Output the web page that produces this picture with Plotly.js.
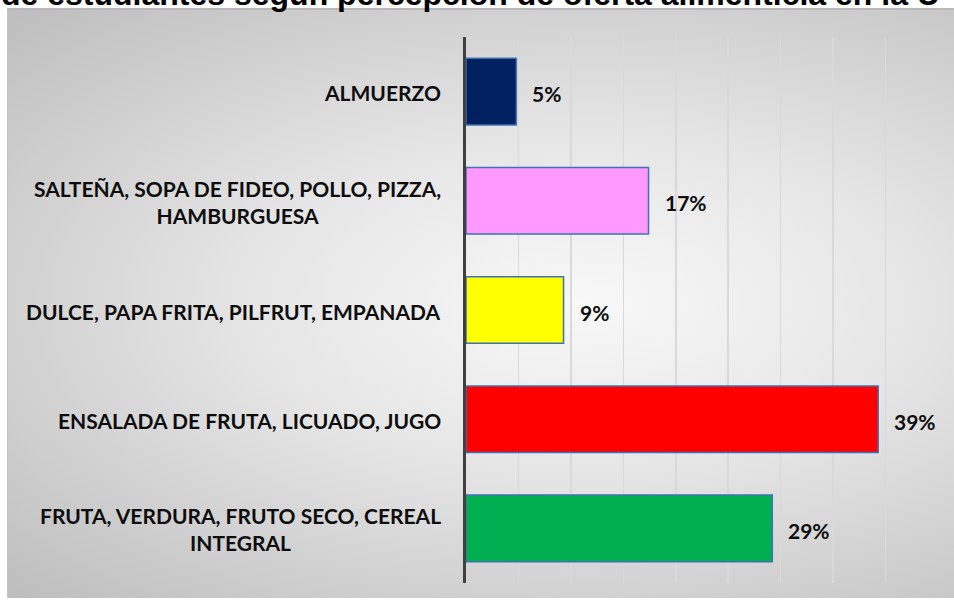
<!DOCTYPE html>
<html>
<head>
<meta charset="utf-8">
<script src="https://cdn.plot.ly/plotly-3.0.1.min.js"></script>
<style>
  html, body { margin: 0; padding: 0; background: #ffffff; overflow: hidden; }
  #wrap { position: relative; width: 954px; height: 608px; overflow: hidden; }
  #panel {
    position: absolute; left: 7px; top: 8px; width: 960px; height: 590px;
    box-sizing: border-box;
    border-top: 2px solid #b9b9b9; border-left: 1px solid #c4c4c4;
    background: radial-gradient(ellipse at 60% 50%, #f8f8f8 0%, #e6e6e6 40%, #bdbdbd 100%);
  }
  #chart { position: absolute; left: 0; top: 0; width: 954px; height: 608px; }
</style>
</head>
<body>
<div id="wrap">
  <div id="panel"></div>
  <div id="chart"></div>
</div>
<script>
// Data (top-to-bottom order as shown)
const titleText = "de estudiantes según percepción de oferta alimenticia en la U";
const categories = [
  "ALMUERZO",
  "SALTEÑA, SOPA DE FIDEO, POLLO, PIZZA, HAMBURGUESA",
  "DULCE, PAPA FRITA, PILFRUT, EMPANADA",
  "ENSALADA DE FRUTA, LICUADO, JUGO",
  "FRUTA, VERDURA, FRUTO SECO, CEREAL INTEGRAL"
];
const categoryLabels = [
  "ALMUERZO",
  "SALTEÑA, SOPA DE FIDEO, POLLO, PIZZA,<br>HAMBURGUESA",
  "DULCE, PAPA FRITA, PILFRUT, EMPANADA",
  "ENSALADA DE FRUTA, LICUADO, JUGO",
  "FRUTA, VERDURA, FRUTO SECO, CEREAL<br>INTEGRAL"
];
const values = [4.8, 17.4, 9.3, 39.3, 29.2];
const valueLabels = ["5%", "17%", "9%", "39%", "29%"];
const barColors = ["#002060", "#FF99FF", "#FFFF00", "#FF0000", "#00B050"];

const labelFont = { family: "Lato, 'Open Sans', sans-serif", size: 21, color: "#0d0d0d", weight: 700 };

const annotations = [];
categories.forEach((c, i) => {
  annotations.push({
    xref: "paper", yref: "y", x: 0, y: c,
    xanchor: "right", yanchor: "middle", xshift: -23, yshift: -1,
    align: "center", showarrow: false,
    text: "<b>" + categoryLabels[i] + "</b>",
    font: labelFont
  });
  annotations.push({
    xref: "x", yref: "y", x: values[i], y: c,
    xanchor: "left", yanchor: "middle", xshift: 14, yshift: -2,
    showarrow: false,
    text: "<b>" + valueLabels[i] + "</b>",
    font: labelFont
  });
});
annotations.push({
  xref: "paper", yref: "paper", x: 0, y: 1,
  xanchor: "left", yanchor: "middle", xshift: -467, yshift: 43,
  showarrow: false,
  text: "<b>" + titleText + "</b>",
  font: { family: "'Liberation Sans', Arial, sans-serif", size: 32, color: "#000000" }
});

const trace = {
  type: "bar",
  orientation: "h",
  x: values,
  y: categories,
  width: 0.61,
  marker: { color: barColors, line: { color: "#3f72b5", width: 1.5 } },
  hoverinfo: "skip"
};

const layout = {
  width: 954, height: 608,
  margin: { l: 466, r: 16, t: 37, b: 25, pad: 0 },
  paper_bgcolor: "rgba(0,0,0,0)",
  plot_bgcolor: "rgba(0,0,0,0)",
  showlegend: false,
  xaxis: {
    range: [0, 45], dtick: 5, showticklabels: false, ticks: "",
    showgrid: true, gridcolor: "#d9d9d9", gridwidth: 1.5,
    zeroline: false, showline: false, fixedrange: true
  },
  yaxis: {
    type: "category", autorange: "reversed",
    showticklabels: false, ticks: "", showgrid: false,
    showline: true, linecolor: "#404040", linewidth: 3,
    zeroline: false, fixedrange: true
  },
  annotations: annotations
};

Plotly.newPlot("chart", [trace], layout, { displayModeBar: false, staticPlot: true });
</script>
</body>
</html>
